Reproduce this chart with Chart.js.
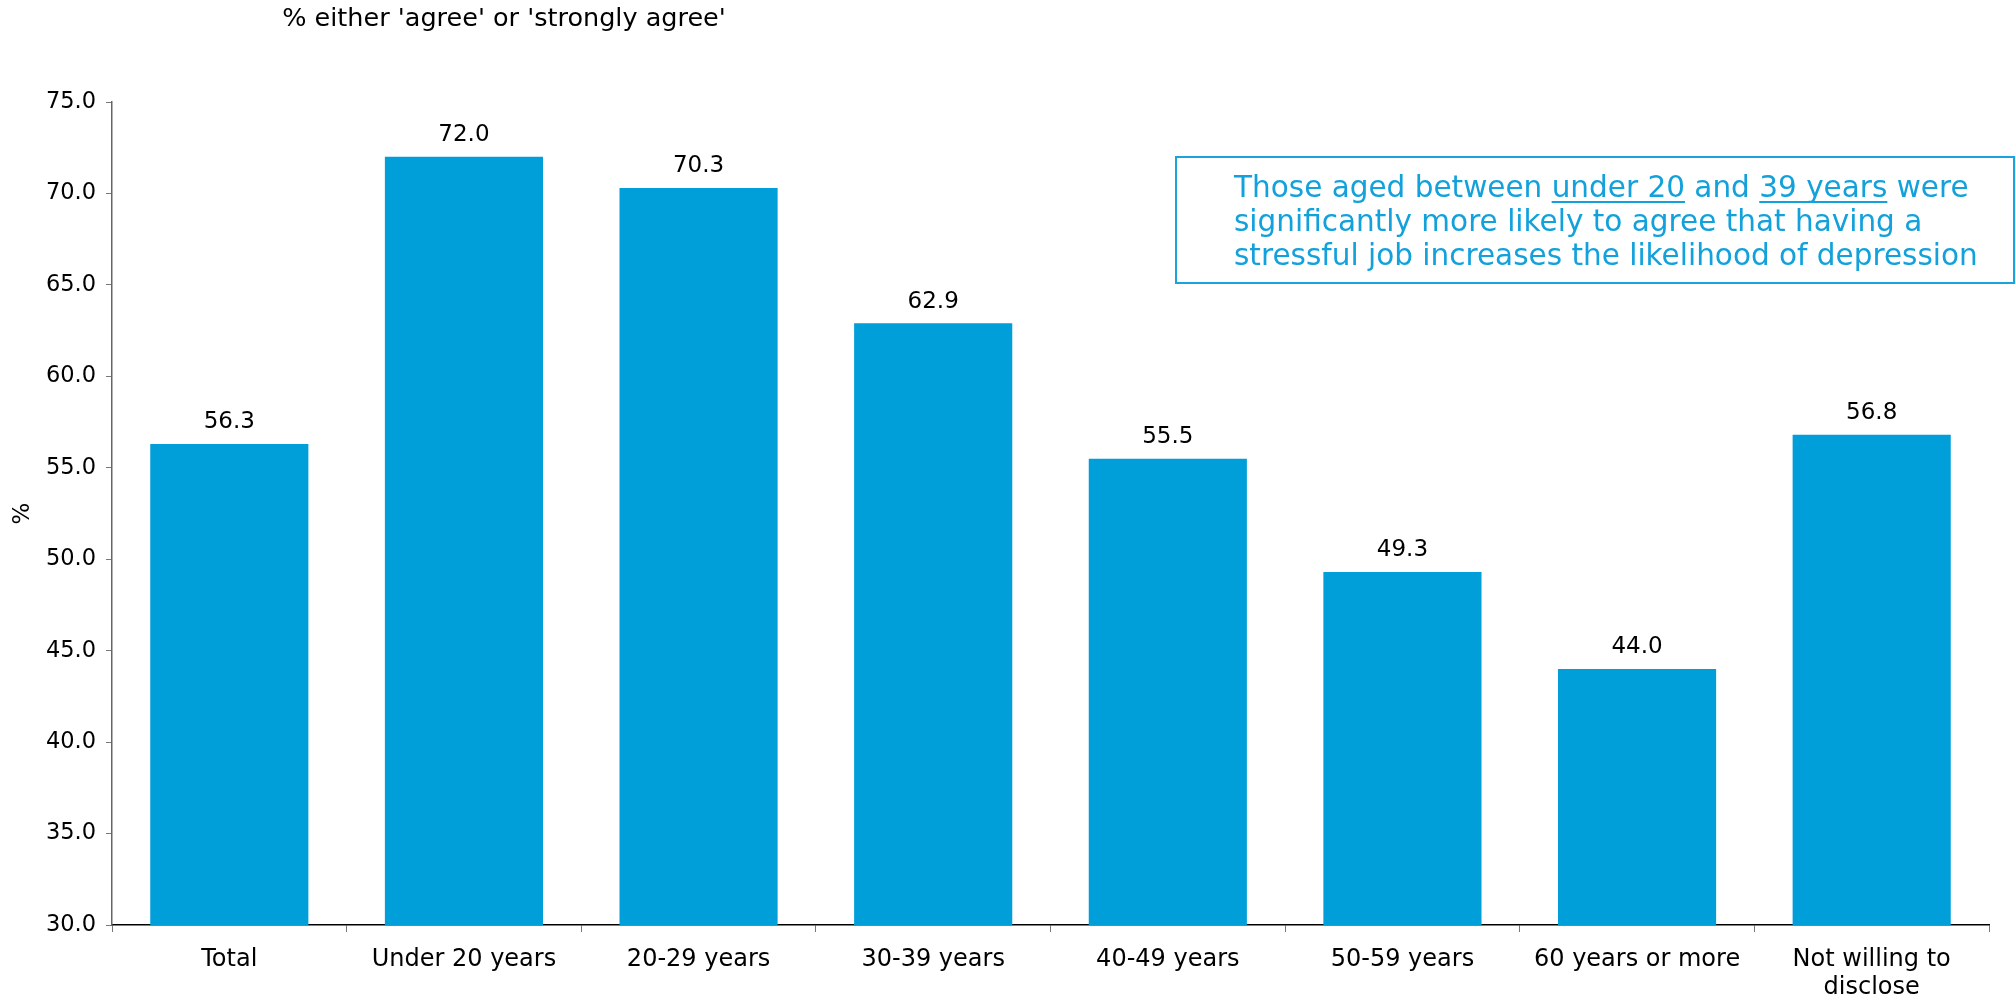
<!DOCTYPE html>
<html>
<head>
<meta charset="utf-8">
<script src="https://cdn.jsdelivr.net/npm/chart.js@4/dist/chart.umd.min.js"></script>
<style>
  html, body { margin: 0; padding: 0; background: #fff; }
  #wrap { width: 2016px; height: 997px; position: relative; }
</style>
</head>
<body>
<div id="wrap"><canvas id="c" width="2016" height="997"></canvas></div>
<script>
// categories and values
const categories = [
  "Total",
  "Under 20 years",
  "20-29 years",
  "30-39 years",
  "40-49 years",
  "50-59 years",
  "60 years or more",
  ["Not willing to", "disclose"]
];
const agreeValues = [56.3, 72.0, 70.3, 62.9, 55.5, 49.3, 44.0, 56.8];
const yMin = 30, yMax = 75, yStep = 5;

const chartTitle = "% either 'agree' or 'strongly agree'";
const noteLines = [
  [["Those aged between ", false], ["under 20", true], [" and ", false], ["39 years", true], [" were", false]],
  [["significantly more likely to agree that having a", false]],
  [["stressful job increases the likelihood of depression", false]]
];

const BLUE = "#009fda";
const FONT = "'DejaVu Sans', Verdana, sans-serif";

// title, value labels and the note box
const extras = {
  id: "extras",
  afterDatasetsDraw(chart) {
    const ctx = chart.ctx;
    ctx.save();
    ctx.fillStyle = "#000";
    ctx.font = "25.5px " + FONT;
    ctx.textAlign = "center";
    ctx.textBaseline = "middle";
    ctx.fillText(chartTitle, 504, 19);

    // value labels above each bar
    ctx.font = "23px " + FONT;
    ctx.textBaseline = "bottom";
    chart.getDatasetMeta(0).data.forEach((bar, i) => {
      ctx.fillText(agreeValues[i].toFixed(1), bar.x, bar.y - 10);
    });

    // note box
    ctx.strokeStyle = "#1aa3dc";
    ctx.lineWidth = 2;
    ctx.strokeRect(1176, 157, 838, 126);
    ctx.fillStyle = "#12a1db";
    ctx.strokeStyle = "#12a1db";
    ctx.font = "29.5px " + FONT;
    ctx.textAlign = "left";
    ctx.textBaseline = "alphabetic";
    noteLines.forEach((parts, li) => {
      let x = 1234;
      const y = 197 + li * 34;
      parts.forEach(([txt, under]) => {
        const w = ctx.measureText(txt).width;
        ctx.fillText(txt, x, y);
        if (under) {
          ctx.lineWidth = 2;
          ctx.beginPath();
          ctx.moveTo(x, y + 5);
          ctx.lineTo(x + w, y + 5);
          ctx.stroke();
        }
        x += w;
      });
    });
    ctx.restore();
  }
};

new Chart(document.getElementById("c"), {
  type: "bar",
  data: {
    labels: categories,
    datasets: [{
      data: agreeValues,
      backgroundColor: BLUE,
      borderWidth: 0,
      barPercentage: 0.674,
      categoryPercentage: 1.0
    }]
  },
  options: {
    responsive: false,
    animation: false,
    devicePixelRatio: 1,
    layout: { padding: { top: 102, right: 27, left: 9, bottom: 0 } },
    plugins: {
      legend: { display: false },
      tooltip: { enabled: false }
    },
    scales: {
      x: {
        afterFit: (s) => { s.height = 72; },
        border: { display: true, color: "#000", width: 1.5 },
        grid: { display: true, drawOnChartArea: false, drawTicks: true, tickLength: 7, color: "#777", offset: true },
        ticks: {
          color: "#000",
          font: { family: FONT, size: 24, lineHeight: 1.2 },
          padding: 13,
          maxRotation: 0,
          autoSkip: false
        }
      },
      y: {
        min: yMin,
        max: yMax,
        afterFit: (s) => { s.width = 103; },
        border: { display: true, color: "#666", width: 1.5 },
        grid: { display: true, drawOnChartArea: false, drawTicks: true, tickLength: 6, color: "#777" },
        ticks: {
          stepSize: yStep,
          color: "#000",
          font: { family: FONT, size: 22.5 },
          padding: 10,
          callback: (v) => Number(v).toFixed(1)
        },
        title: {
          display: true,
          text: "%",
          color: "#000",
          font: { family: FONT, size: 23 },
          padding: { top: 0, bottom: 4 }
        }
      }
    }
  },
  plugins: [extras]
});
</script>
</body>
</html>
